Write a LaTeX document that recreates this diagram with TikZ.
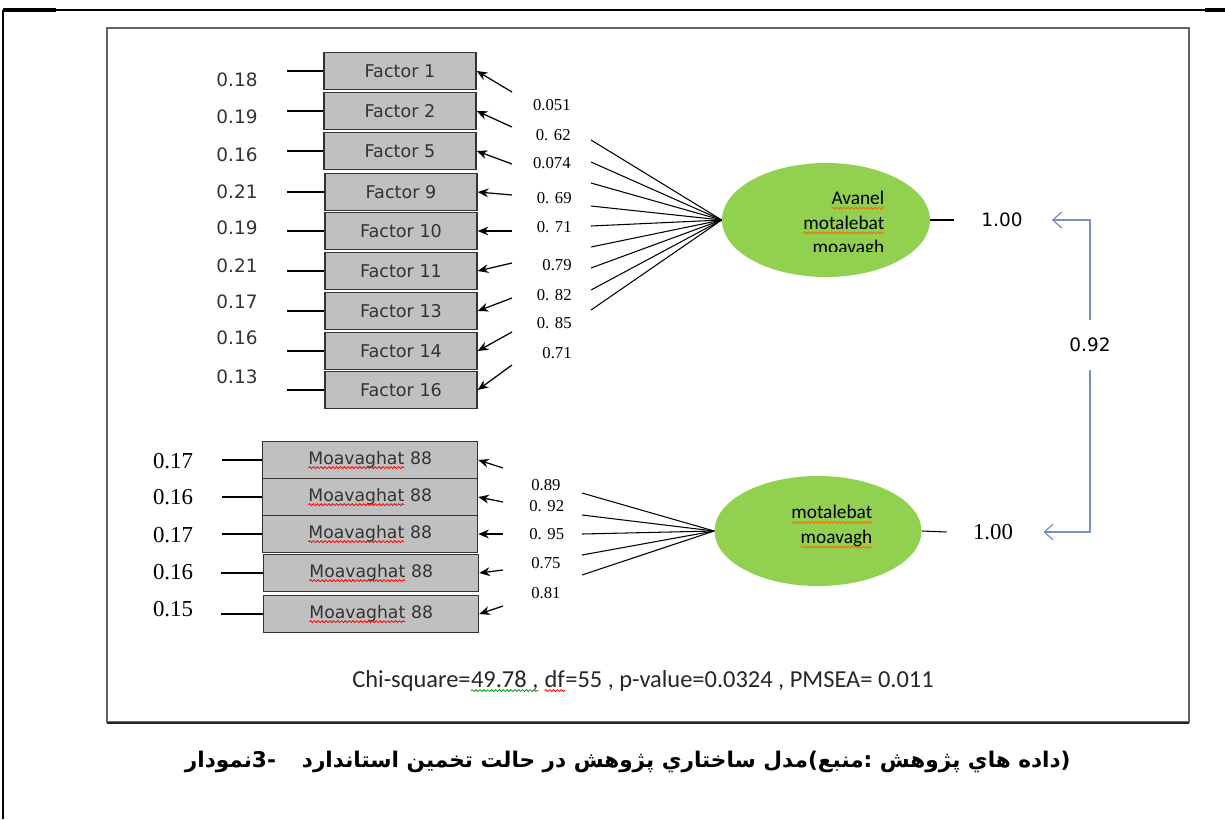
\documentclass[tikz,border=0pt]{standalone}
\usepackage{fontspec}
\usetikzlibrary{shapes,arrows.meta,decorations.pathmorphing}
\TeXXeTstate=1
\newfontfamily\verd{DejaVu Sans}
\newfontfamily\tnr{Liberation Serif}
\newfontfamily\calib{Carlito}
\newfontfamily\arabicfont[Script=Arabic]{DejaVu Sans}
\definecolor{lgreen}{HTML}{92D050}
\definecolor{boxgray}{HTML}{C0C0C0}
\definecolor{txgray}{HTML}{333333}
\definecolor{corblue}{RGB}{115,145,195}
\newcommand\sqw[2]{\tikz[baseline=(sq.base)]{\node[shape=rectangle,draw=none,fill=none,inner sep=0pt,outer sep=0pt,minimum width=0pt,minimum height=0pt,anchor=base,align=left] (sq) {#2};\draw[#1,fill=none,line width=.45pt,decorate,decoration={snake,amplitude=.55pt,segment length=2.2pt}] ([yshift=-2pt]sq.base west) -- ([yshift=-2pt]sq.base east);}}
\tikzstyle{bx}=[rectangle,draw=black!80,line width=.9pt,fill=boxgray,text=txgray,font=\verd\fontsize{10}{12}\selectfont,minimum width=3.04cm,minimum height=.74cm,inner sep=0pt]
\tikzstyle{mbx}=[bx,minimum width=4.3cm,font=\verd\fontsize{9.8}{11}\selectfont]
\tikzstyle{lv}=[ellipse,fill=lgreen,minimum width=4.16cm,minimum height=2.28cm,inner sep=0pt]
\tikzstyle{lvt}=[inner sep=0pt,align=right,font=\calib\fontsize{11}{14}\selectfont]
\tikzstyle{er}=[inner sep=0pt,text=txgray,font=\verd\fontsize{10.5}{12}\selectfont]
\tikzstyle{ers}=[inner sep=0pt,font=\tnr\fontsize{13}{15}\selectfont]
\tikzstyle{ld}=[inner sep=0pt,font=\tnr\fontsize{9.5}{11}\selectfont]
\tikzstyle{ln}=[line width=.6pt]
\tikzstyle{pil}=[line width=.7pt,-{Stealth[length=6pt,width=5pt]}]
\tikzstyle{cor}=[line width=.7pt,corblue,-{Straight Barb[length=5pt,width=9pt]}]

\begin{document}
\begin{tikzpicture}[x=0.02cm,y=-0.02cm]
\useasboundingbox (0,0) rectangle (1225,819);
\draw[line width=1pt] (3,10) -- (1225,10);
\draw[line width=1pt] (3,10) -- (3,819);
\draw[line width=2pt] (3,10) -- (56,10); \draw[line width=2pt] (1205,10) -- (1225,10);
\draw[line width=.9pt,black!60] (107,28) rectangle (1189,722);
\draw[line width=1.1pt,black!85] (107,723) -- (1189,723);

\node[bx] (f1) at (400,71) {Factor 1};
\node[bx] (f2) at (400,111) {Factor 2};
\node[bx] (f5) at (400,151) {Factor 5};
\node[bx] (f9) at (401,192) {Factor 9};
\node[bx] (f10) at (401,231) {Factor 10};
\node[bx] (f11) at (401,271) {Factor 11};
\node[bx] (f13) at (401,311) {Factor 13};
\node[bx] (f14) at (401,351) {Factor 14};
\node[bx] (f16) at (401,390) {Factor 16};

\node[er] (e1) at (237,80) {0.18}; \node[er] (e2) at (237,117) {0.19}; \node[er] (e5) at (237,155) {0.16};
\node[er] (e9) at (237,192) {0.21}; \node[er] (e10) at (237,228) {0.19}; \node[er] (e11) at (237,266) {0.21};
\node[er] (e13) at (237,302) {0.17}; \node[er] (e14) at (237,338) {0.16}; \node[er] (e16) at (237,377) {0.13};
\draw[ln] (f1.west) -- ([xshift=-.72cm]f1.west); \draw[ln] (f2.west) -- ([xshift=-.72cm]f2.west);
\draw[ln] (f5.west) -- ([xshift=-.72cm]f5.west); \draw[ln] (f9.west) -- ([xshift=-.74cm]f9.west);
\draw[ln] (f10.west) -- ([xshift=-.74cm]f10.west); \draw[ln] (f11.west) -- ([xshift=-.74cm]f11.west);
\draw[ln] (f13.west) -- ([xshift=-.74cm]f13.west); \draw[ln] (f14.west) -- ([xshift=-.74cm]f14.west);
\draw[ln] (f16.west) -- ([xshift=-.74cm]f16.west);

\coordinate (a1) at (512,92); \coordinate (a2) at (512,127); \coordinate (a5) at (512,164);
\coordinate (a9) at (512,195); \coordinate (a10) at (512,231); \coordinate (a11) at (512,263);
\coordinate (a13) at (512,298); \coordinate (a14) at (512,332); \coordinate (a16) at (512,365);
\draw[pil] (a1) -- (f1.east); \draw[pil] (a2) -- (f2.east); \draw[pil] (a5) -- (f5.east);
\draw[pil] (a9) -- (f9.east); \draw[pil] (a10) -- (f10.east); \draw[pil] (a11) -- (f11.east);
\draw[pil] (a13) -- (f13.east); \draw[pil] (a14) -- (f14.east); \draw[pil] (a16) -- (f16.east);

\node[ld,anchor=east] (l1) at (571,105) {0.051};
\node[ld,anchor=east] (l2) at (571,135) {0. 62};
\node[ld,anchor=east] (l5) at (571,163) {0.074};
\node[ld,anchor=east] (l9) at (572,198) {0. 69};
\node[ld,anchor=east] (l10) at (572,227) {0. 71};
\node[ld,anchor=east] (l11) at (572,265) {0.79};
\node[ld,anchor=east] (l13) at (572,295) {0. 82};
\node[ld,anchor=east] (l14) at (572,323) {0. 85};
\node[ld,anchor=east] (l16) at (572,353) {0.71};

\node[lv] (lv1) at (826,220) {};
\begin{scope}
\clip (760,185) rectangle (900,251);
\node[lvt,anchor=east] (t1) at (885,225) {\sqw{orange!80!red}{Avanel}\\\sqw{orange!80!red}{motalebat}\\\sqw{orange!80!red}{moavagh}};
\end{scope}
\coordinate (s1) at (591,140); \coordinate (s2) at (591,162); \coordinate (s3) at (591,183);
\coordinate (s4) at (591,206); \coordinate (s5) at (591,226); \coordinate (s6) at (591,247);
\coordinate (s7) at (591,268); \coordinate (s8) at (591,290); \coordinate (s9) at (591,310);
\draw[ln] (s1) -- (lv1.west); \draw[ln] (s2) -- (lv1.west); \draw[ln] (s3) -- (lv1.west);
\draw[ln] (s4) -- (lv1.west); \draw[ln] (s5) -- (lv1.west); \draw[ln] (s6) -- (lv1.west);
\draw[ln] (s7) -- (lv1.west); \draw[ln] (s8) -- (lv1.west); \draw[ln] (s9) -- (lv1.west);

\node[mbx] (m1) at (370,460) {\sqw{red}{Moavaghat} 88};
\node[mbx] (m2) at (370,497) {\sqw{red}{Moavaghat} 88};
\node[mbx] (m3) at (370,534) {\sqw{red}{Moavaghat} 88};
\node[mbx] (m4) at (371,573) {\sqw{red}{Moavaghat} 88};
\node[mbx] (m5) at (371,614) {\sqw{red}{Moavaghat} 88};

\node[ers] (g1) at (173,461) {0.17}; \node[ers] (g2) at (173,497) {0.16}; \node[ers] (g3) at (173,535) {0.17};
\node[ers] (g4) at (173,572) {0.16}; \node[ers] (g5) at (173,609) {0.15};
\draw[ln] (m1.west) -- ([xshift=-.8cm]m1.west); \draw[ln] (m2.west) -- ([xshift=-.8cm]m2.west);
\draw[ln] (m3.west) -- ([xshift=-.8cm]m3.west); \draw[ln] (m4.west) -- ([xshift=-.84cm]m4.west);
\draw[ln] (m5.west) -- ([xshift=-.84cm]m5.west);

\coordinate (b1) at (503,468); \coordinate (b2) at (503,502); \coordinate (b3) at (503,534);
\coordinate (b4) at (503,570); \coordinate (b5) at (503,606);
\draw[pil] (b1) -- (m1.east); \draw[pil] (b2) -- (m2.east); \draw[pil] (b3) -- (m3.east);
\draw[pil] (b4) -- (m4.east); \draw[pil] (b5) -- (m5.east);

\node[ld,anchor=west] (k1) at (531,485) {0.89};
\node[ld,anchor=west] (k2) at (529,506) {0. 92};
\node[ld,anchor=west] (k3) at (529,534) {0. 95};
\node[ld,anchor=west] (k4) at (531,563) {0.75};
\node[ld,anchor=west] (k5) at (531,593) {0.81};

\node[lv,minimum width=4.14cm,minimum height=2.2cm] (lv2) at (818,531) {};
\node[lvt,anchor=east] (t2) at (873,527) {\sqw{orange!80!red}{motalebat}\\\sqw{orange!80!red}{moavagh}};
\coordinate (r1) at (582,493); \coordinate (r2) at (582,515); \coordinate (r3) at (582,534);
\coordinate (r4) at (582,555); \coordinate (r5) at (582,575);
\draw[ln] (r1) -- (lv2.west); \draw[ln] (r2) -- (lv2.west); \draw[ln] (r3) -- (lv2.west);
\draw[ln] (r4) -- (lv2.west); \draw[ln] (r5) -- (lv2.west);

\node[er,text=black] (o1) at (1002,220) {1.00};
\node[ers] (o2) at (993,532) {1.00};
\draw[ln] (lv1.east) -- ([xshift=-.54cm]o1.west);
\draw[ln] (lv2.east) -- ([xshift=-.52cm]o2.west);
\node[er,text=black,minimum height=1cm] (r) at (1090,345) {0.92};
\draw[cor] (r.north) |- ([xshift=.58cm]o1.east);
\draw[cor] (r.south) |- ([xshift=.6cm]o2.east);

\node[inner sep=0pt,text=black!85,font=\calib\fontsize{13.9}{16}\selectfont] (chi) at (643,681) {Chi-square=\sqw{green!60!black}{49.78 ,} \sqw{red}{df}=55 , p-value=0.0324 , PMSEA= 0.011};
\node[inner sep=0pt,anchor=east,font=\fontsize{12.3}{14}\selectfont] (cap) at (1071,762) {\arabicfont\bfseries\beginR (داده هاي پژوهش :منبع)مدل ساختاري پژوهش در حالت تخمين استاندارد\hspace{1.2em}-3نمودار\endR};
\end{tikzpicture}
\end{document}
